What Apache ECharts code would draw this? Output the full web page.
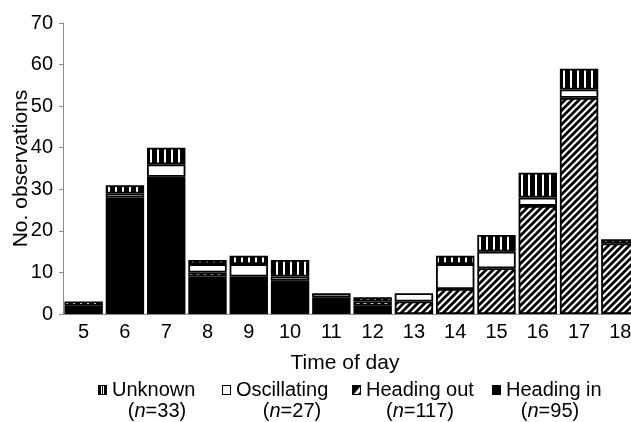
<!DOCTYPE html>
<html><head><meta charset="utf-8">
<script src="https://cdn.jsdelivr.net/npm/echarts@6/dist/echarts.min.js"></script>
<style>html,body{margin:0;padding:0;background:#fff}#c{width:631px;height:422px}</style>
</head><body><div id="c"></div>
<script>
// ---- data ----
const categories  = ['5','6','7','8','9','10','11','12','13','14','15','16','17','18'];
const headingIn   = [2,28,33,9,9,8,4,2,0,0,0,0,0,0];
const headingOut  = [0,0,0,1,0,0,0,1,3,6,11,26,52,17];
const oscillating = [0,1,3,2,3,1,1,0,2,6,4,2,2,0];
const unknown     = [1,2,4,1,2,4,0,1,0,2,4,6,5,1];
const legendNames = ['Unknown','Oscillating','Heading out','Heading in'];
const legendCounts = [33,27,117,95];
const yMin = 0, yMax = 70, yStep = 10;
const xTitle = 'Time of day';
const yTitle = 'No. observations';

// ---- patterns ----
function makeCanvas(w,h,draw){const c=document.createElement('canvas');c.width=w;c.height=h;const g=c.getContext('2d');draw(g,w,h);return c;}
const hatch = makeCanvas(7,7,(g,w,h)=>{g.fillStyle='#fff';g.fillRect(0,0,w,h);g.strokeStyle='#000';g.lineWidth=2.8;g.beginPath();
  for(let k=-1;k<=1;k++){g.moveTo(k*w-1,h+1);g.lineTo(k*w+w+1,-1);} g.stroke();});
const stripes = makeCanvas(7,7,(g,w,h)=>{g.fillStyle='#000';g.fillRect(0,0,w,h);g.fillStyle='#fff';g.fillRect(3,0,2,h);});

const icons = {
  'Unknown': makeCanvas(9,10,(g,w,h)=>{g.fillStyle='#000';g.fillRect(0,0,w,h);g.fillStyle='#fff';g.fillRect(3,1,1,h-2);g.fillRect(5,1,1,h-2);}),
  'Oscillating': makeCanvas(9,10,(g,w,h)=>{g.fillStyle='#000';g.fillRect(0,0,w,h);g.fillStyle='#fff';g.fillRect(1,1,w-2,h-2);}),
  'Heading out': makeCanvas(9,10,(g,w,h)=>{g.fillStyle='#000';g.fillRect(0,0,w,h);g.fillStyle='#fff';g.beginPath();g.moveTo(w-1,2);g.lineTo(w-1,h-1);g.lineTo(2,h-1);g.closePath();g.fill();g.fillStyle='#000';g.beginPath();g.moveTo(w-1,h-3);g.lineTo(w-1,h-1);g.lineTo(w-3,h-1);g.closePath();g.fill();}),
  'Heading in': makeCanvas(9,10,(g,w,h)=>{g.fillStyle='#000';g.fillRect(0,0,w,h);})
};
const legendLeft = [98, 222, 352, 492];
const countCenter = [157, 292, 420, 550];

const FONT = '"Liberation Sans", Arial, sans-serif';
const nz = a => a.map(v => v === 0 ? '-' : v);
const border = {borderColor:'#000', borderWidth:1.8};

const chart = echarts.init(document.getElementById('c'), null, {renderer:'canvas'});
chart.setOption({
  animation:false,
  backgroundColor:'#fff',
  grid:{left:63, right:-10, top:23, bottom:108, containLabel:false, outerBoundsMode:'none'},
  xAxis:{type:'category', data:categories,
    axisLine:{lineStyle:{color:'#8c8c8c', width:1}},
    axisTick:{length:5, lineStyle:{color:'#8c8c8c'}},
    axisLabel:{fontSize:20, color:'#000', fontFamily:FONT, margin:8}},
  yAxis:{type:'value', min:yMin, max:yMax, interval:yStep,
    splitLine:{show:false},
    axisLine:{show:true, lineStyle:{color:'#8c8c8c', width:1}},
    axisTick:{show:true, length:4, lineStyle:{color:'#8c8c8c'}},
    axisLabel:{fontSize:20, color:'#000', fontFamily:FONT, margin:10},
    name:yTitle, nameLocation:'middle', nameGap:31, nameMoveOverlap:false,
    nameTextStyle:{fontSize:21, color:'#000', fontFamily:FONT}},
  legend: legendNames.map((n,i)=>({
    data:[n], left:legendLeft[i], top:380, padding:0, itemWidth:9, itemHeight:10,
    selectedMode:false, icon:'image://'+icons[n].toDataURL(),
    textStyle:{fontSize:20, color:'#000', fontFamily:FONT}
  })),
  graphic: [
    {type:'text', x:345, y:363, silent:true, style:{text:xTitle, fontSize:21, fontFamily:FONT, fill:'#000', align:'center', verticalAlign:'middle'}}
  ].concat(legendCounts.map((c,i)=>({
    type:'text', x:countCenter[i], y:411, silent:true,
    style:{text:'{p|(}{i|n}{p|='+c+')}', align:'center', verticalAlign:'middle',
      rich:{p:{fontSize:20, fontFamily:FONT, fill:'#000'}, i:{fontSize:20, fontFamily:FONT, fontStyle:'italic', fill:'#000'}}}
  }))),
  series:[
    {name:'Heading in', type:'bar', stack:'t', data:nz(headingIn), barCategoryGap:'7%', itemStyle:Object.assign({color:'#000'}, border)},
    {name:'Heading out', type:'bar', stack:'t', data:nz(headingOut), itemStyle:Object.assign({color:{image:hatch, repeat:'repeat'}}, border)},
    {name:'Oscillating', type:'bar', stack:'t', data:nz(oscillating), itemStyle:Object.assign({color:'#fff'}, border)},
    {name:'Unknown', type:'bar', stack:'t', data:nz(unknown), itemStyle:Object.assign({color:{image:stripes, repeat:'repeat'}}, border)}
  ]
});
</script></body></html>
